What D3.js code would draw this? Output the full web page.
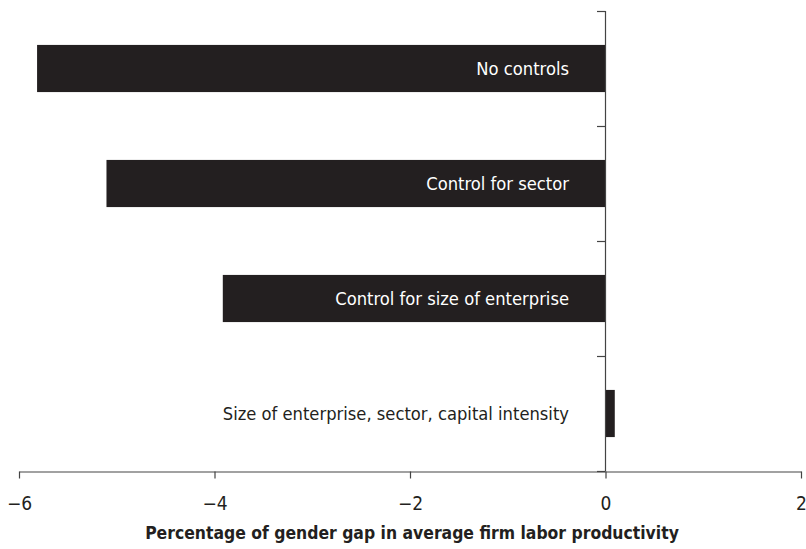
<!DOCTYPE html>
<html>
<head>
<meta charset="utf-8">
<script src="https://cdn.jsdelivr.net/npm/d3@7"></script>
<style>
  body { margin: 0; background: #fff; }
  svg { display: block; }
  text { font-family: "Liberation Sans Narrow", "DejaVu Sans Condensed", sans-serif; }
</style>
</head>
<body>
<div id="chart"></div>
<script>
// Données
const categories = [
  "No controls",
  "Control for sector",
  "Control for size of enterprise",
  "Size of enterprise, sector, capital intensity"
];
const values = [-5.81, -5.1, -3.91, 0.1];
const xTicks = [-6, -4, -2, 0, 2];
const xTitle = "Percentage of gender gap in average firm labor productivity";

const width = 806;
const height = 549;

const svg = d3
  .select("#chart")
  .append("svg")
  .attr("width", width)
  .attr("height", height);

// Échelles
const x = d3.scaleLinear().domain([-6, 2]).range([18.5, 800.5]);
const y = d3.scaleBand().domain(categories).range([11, 471]).paddingInner(0.59).paddingOuter(0.295);

const axisColor = "#444";
const barColor = "#231f20";

// Barres
svg
  .selectAll("rect.bar")
  .data(categories)
  .enter()
  .append("rect")
  .attr("class", "bar")
  .attr("x", (d, i) => x(Math.min(0, values[i])))
  .attr("y", (d) => y(d))
  .attr("width", (d, i) => Math.abs(x(values[i]) - x(0)))
  .attr("height", y.bandwidth())
  .style("fill", barColor);

// Axe vertical (ticks entre les catégories)
const yTickPos = [11, 126, 241, 356, 471];
svg
  .append("line")
  .attr("x1", x(0) + 0.5)
  .attr("x2", x(0) + 0.5)
  .attr("y1", 11)
  .attr("y2", 471)
  .style("stroke", axisColor)
  .style("stroke-width", 1.2);

svg
  .selectAll("line.ytick")
  .data(yTickPos)
  .enter()
  .append("line")
  .attr("class", "ytick")
  .attr("x1", x(0) - 8)
  .attr("x2", x(0) + 0.5)
  .attr("y1", (d) => d + 0.5)
  .attr("y2", (d) => d + 0.5)
  .style("stroke", axisColor)
  .style("stroke-width", 1.2);

// Axe horizontal
const xAxis = svg
  .append("g")
  .attr("transform", "translate(0.5,471.5)")
  .call(
    d3.axisBottom(x)
      .tickValues(xTicks)
      .tickSize(7)
      .tickSizeOuter(0)
      .tickFormat((d) => (d < 0 ? "\u2212" + Math.abs(d) : d))
  );
xAxis.select(".domain").style("stroke", axisColor).style("stroke-width", 1.2);
xAxis.selectAll(".tick line").style("stroke", axisColor).style("stroke-width", 1.2);
xAxis
  .selectAll(".tick text")
  .attr("y", 25)
  .style("font-size", "19px")
  .style("fill", "#231f20")
  .style("font-family", "'Liberation Sans Narrow', 'DejaVu Sans Condensed', sans-serif");

// Étiquettes des barres
svg
  .selectAll("text.label")
  .data(categories)
  .enter()
  .append("text")
  .attr("class", "label")
  .attr("x", x(0) - 36)
  .attr("y", (d) => y(d) + y.bandwidth() / 2)
  .attr("dy", "0.35em")
  .attr("text-anchor", "end")
  .style("font-size", "18.2px")
  .style("fill", (d, i) => (values[i] < 0 ? "#fff" : "#231f20"))
  .text((d) => d);

// Titre de l'axe
svg
  .append("text")
  .attr("x", 412)
  .attr("y", 539)
  .attr("text-anchor", "middle")
  .style("font-size", "17.4px")
  .style("font-weight", "bold")
  .style("fill", "#231f20")
  .text(xTitle);
</script>
</body>
</html>
